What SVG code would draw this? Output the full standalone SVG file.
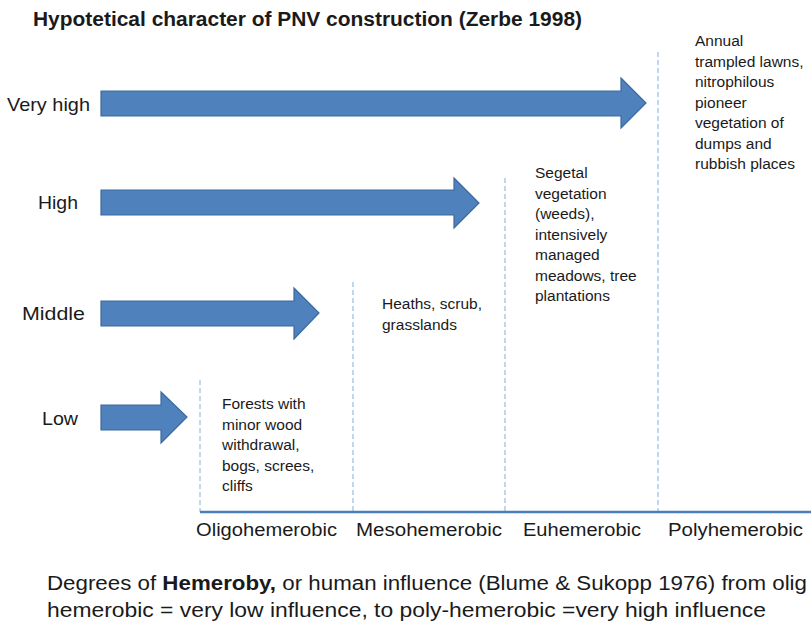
<svg xmlns="http://www.w3.org/2000/svg" width="811" height="623" viewBox="0 0 811 623">
<style>
text{font-family:"Liberation Sans",Arial,sans-serif;fill:#1a1a1a}
.lvl{font-size:19px}
.ax{font-size:17.5px}
.blk{font-size:15.5px}
.arrow{fill:#4f81bd;stroke:#3d6a9e;stroke-width:1.2}
.div{stroke:#9fc2e4;stroke-width:1.3;stroke-dasharray:5 3;fill:none}
.axis{stroke:#4a7ebb;stroke-width:2.5}
</style>
<rect width="811" height="623" fill="#fff"/>
<text x="33" y="26" font-size="20" font-weight="bold" textLength="549" lengthAdjust="spacingAndGlyphs">Hypotetical character of PNV construction (Zerbe 1998)</text>
<g id="connectors">
<line class="div" x1="200" y1="380" x2="200" y2="512"/>
<line class="div" x1="353" y1="282" x2="353" y2="512"/>
<line class="div" x1="505" y1="178" x2="505" y2="512"/>
<line class="div" x1="658" y1="52" x2="658" y2="512"/>
<line class="axis" x1="200" y1="512" x2="811" y2="512"/>
</g>
<g id="very-high">
<text class="lvl" x="7" y="111" textLength="83" lengthAdjust="spacingAndGlyphs">Very high</text>
<polygon class="arrow" points="101,91 621,91 621,78 646,103 621,128 621,116 101,116"/>
</g>
<g id="high">
<text class="lvl" x="38" y="209" textLength="40" lengthAdjust="spacingAndGlyphs">High</text>
<polygon class="arrow" points="101,190 454,190 454,178 479,203 454,228 454,215 101,215"/>
</g>
<g id="middle">
<text class="lvl" x="22" y="320" textLength="63" lengthAdjust="spacingAndGlyphs">Middle</text>
<polygon class="arrow" points="101,301 294,301 294,288 319,313 294,339 294,326 101,326"/>
</g>
<g id="low">
<text class="lvl" x="42" y="425" textLength="36" lengthAdjust="spacingAndGlyphs">Low</text>
<polygon class="arrow" points="101,405 161,405 161,392 187,417 161,443 161,430 101,430"/>
</g>
<g id="oligo">
<text class="blk"><tspan x="222" y="409">Forests with</tspan><tspan x="222" y="429.5">minor wood</tspan><tspan x="222" y="450">withdrawal,</tspan><tspan x="222" y="470.5">bogs, screes,</tspan><tspan x="222" y="491">cliffs</tspan></text>
<text class="ax" x="196" y="536" textLength="141" lengthAdjust="spacingAndGlyphs">Oligohemerobic</text>
</g>
<g id="meso">
<text class="blk"><tspan x="382" y="309">Heaths, scrub,</tspan><tspan x="382" y="329.5">grasslands</tspan></text>
<text class="ax" x="356" y="536" textLength="146" lengthAdjust="spacingAndGlyphs">Mesohemerobic</text>
</g>
<g id="eu">
<text class="blk"><tspan x="535" y="178">Segetal</tspan><tspan x="535" y="198.5">vegetation</tspan><tspan x="535" y="219">(weeds),</tspan><tspan x="535" y="239.5">intensively</tspan><tspan x="535" y="260">managed</tspan><tspan x="535" y="280.5">meadows, tree</tspan><tspan x="535" y="301">plantations</tspan></text>
<text class="ax" x="523" y="536" textLength="118" lengthAdjust="spacingAndGlyphs">Euhemerobic</text>
</g>
<g id="poly">
<text class="blk"><tspan x="695" y="46">Annual</tspan><tspan x="695" y="66.5">trampled lawns,</tspan><tspan x="695" y="87">nitrophilous</tspan><tspan x="695" y="107.5">pioneer</tspan><tspan x="695" y="128">vegetation of</tspan><tspan x="695" y="148.5">dumps and</tspan><tspan x="695" y="169">rubbish places</tspan></text>
<text class="ax" x="668" y="536" textLength="135" lengthAdjust="spacingAndGlyphs">Polyhemerobic</text>
</g>
<text font-size="19.5" x="47" y="590" textLength="760" lengthAdjust="spacingAndGlyphs">Degrees of <tspan font-weight="bold">Hemeroby,</tspan> or human influence (Blume &amp; Sukopp 1976) from olig</text>
<text font-size="19.5" x="47" y="617" textLength="719" lengthAdjust="spacingAndGlyphs">hemerobic = very low influence, to poly-hemerobic =very high influence</text>
</svg>
